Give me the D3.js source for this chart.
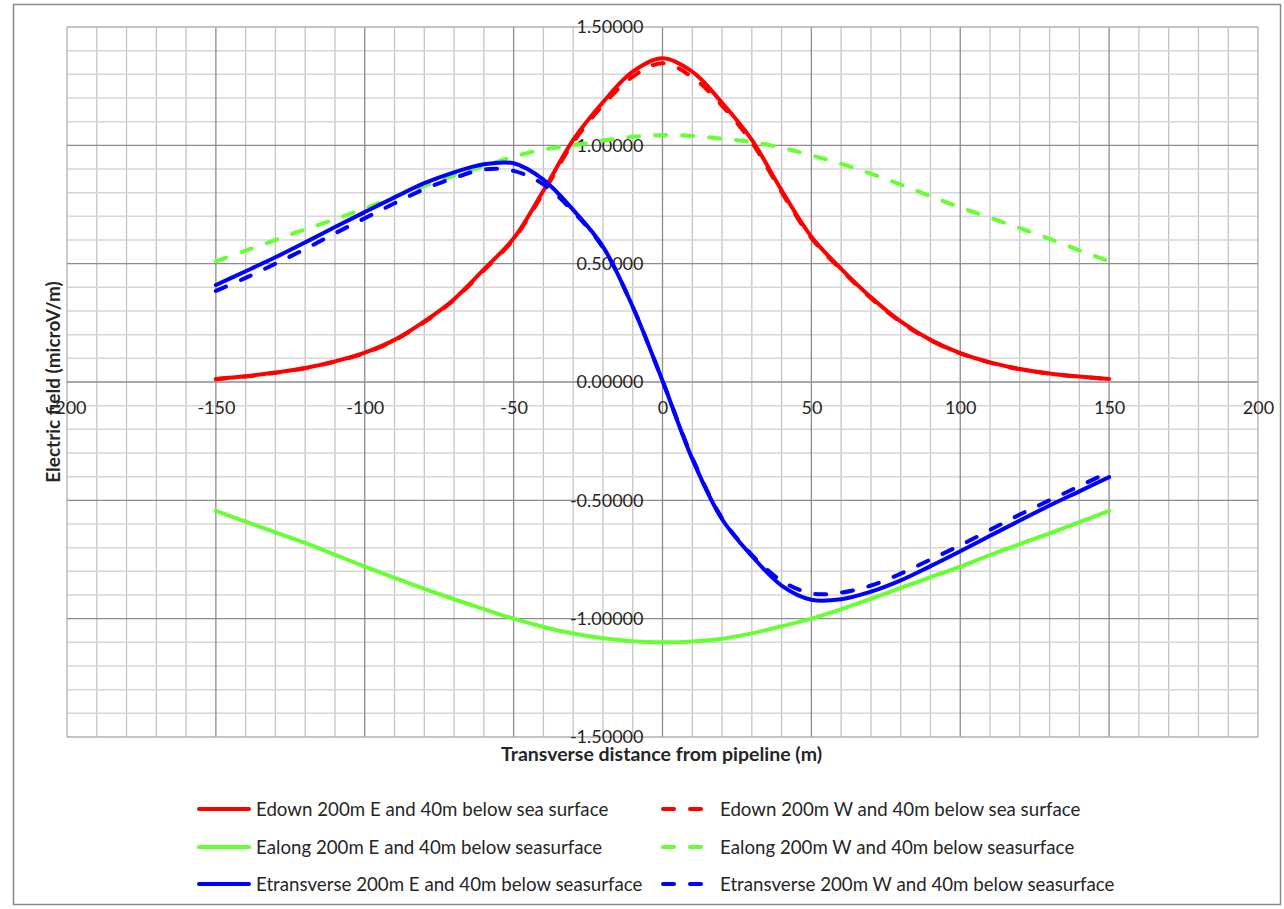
<!DOCTYPE html>
<html>
<head>
<meta charset="utf-8">
<script src="https://cdn.jsdelivr.net/npm/d3@7"></script>
<style>
  html, body { margin: 0; padding: 0; background: #fff; }
  svg { display: block; }
  text { font-family: Lato, "Open Sans", sans-serif; fill: #262626; }
</style>
</head>
<body>
<svg id="chart" width="1284" height="909"></svg>
<script>
// Transverse distance from the pipeline (m)
const distance = [-150, -140, -130, -120, -110, -100, -90, -80, -70, -60, -50, -40, -30, -20, -10,
                  0, 10, 20, 30, 40, 50, 60, 70, 80, 90, 100, 110, 120, 130, 140, 150];

// Electric field components (microV/m)
const edownE = [0.013, 0.024, 0.040, 0.059, 0.087, 0.124, 0.178, 0.256, 0.350, 0.476, 0.607, 0.808, 1.023, 1.182, 1.311,
                1.368, 1.311, 1.180, 1.023, 0.810, 0.614, 0.478, 0.358, 0.256, 0.178, 0.122, 0.083, 0.055, 0.036, 0.023, 0.013];
const edownW = [0.012, 0.023, 0.039, 0.058, 0.086, 0.122, 0.176, 0.253, 0.347, 0.472, 0.603, 0.800, 1.012, 1.170, 1.290,
                1.347, 1.288, 1.168, 1.012, 0.802, 0.608, 0.474, 0.354, 0.253, 0.176, 0.121, 0.082, 0.054, 0.035, 0.022, 0.012];
const ealongE = [-0.545, -0.590, -0.635, -0.680, -0.730, -0.780, -0.828, -0.874, -0.918, -0.960, -1.000, -1.035, -1.063, -1.083, -1.095,
                 -1.100, -1.096, -1.085, -1.062, -1.032, -1.000, -0.960, -0.916, -0.870, -0.825, -0.780, -0.731, -0.685, -0.640, -0.592, -0.545];
const ealongW = [0.510, 0.555, 0.600, 0.645, 0.688, 0.733, 0.782, 0.828, 0.872, 0.912, 0.952, 0.982, 1.000, 1.020, 1.036,
                 1.044, 1.040, 1.028, 1.014, 0.990, 0.958, 0.922, 0.880, 0.834, 0.785, 0.738, 0.694, 0.650, 0.605, 0.556, 0.510];
const etransE = [0.410, 0.468, 0.527, 0.590, 0.655, 0.718, 0.780, 0.840, 0.886, 0.920, 0.924, 0.855, 0.727, 0.572, 0.318,
                 0.005, -0.325, -0.580, -0.735, -0.860, -0.920, -0.918, -0.886, -0.838, -0.778, -0.715, -0.650, -0.585, -0.522, -0.462, -0.402];
const etransW = [0.385, 0.440, 0.500, 0.562, 0.628, 0.692, 0.755, 0.815, 0.862, 0.898, 0.892, 0.835, 0.720, 0.568, 0.318,
                 0.005, -0.320, -0.575, -0.730, -0.840, -0.893, -0.890, -0.860, -0.810, -0.750, -0.690, -0.625, -0.560, -0.500, -0.440, -0.380];

const seriesNames = [
  "Edown 200m E and 40m below sea surface",
  "Edown 200m W and 40m below sea surface",
  "Ealong 200m E and 40m below seasurface",
  "Ealong 200m W and 40m below seasurface",
  "Etransverse 200m E and 40m below seasurface",
  "Etransverse 200m W and 40m below seasurface"
];

const xTicks = [-200, -150, -100, -50, 0, 50, 100, 150, 200];
const yTicks = [-1.5, -1.0, -0.5, 0, 0.5, 1.0, 1.5];

const RED = "#ff0000", GREEN = "#66ff33", BLUE = "#0000ff";
const series = [
  { name: seriesNames[0], values: edownE,  color: RED,   dashed: false },
  { name: seriesNames[1], values: edownW,  color: RED,   dashed: true  },
  { name: seriesNames[2], values: ealongE, color: GREEN, dashed: false },
  { name: seriesNames[3], values: ealongW, color: GREEN, dashed: true  },
  { name: seriesNames[4], values: etransE, color: BLUE,  dashed: false },
  { name: seriesNames[5], values: etransW, color: BLUE,  dashed: true  }
];

const svg = d3.select("#chart");
const plot = { left: 67, right: 1258, top: 27, bottom: 737 };

const x = d3.scaleLinear().domain([-200, 200]).range([plot.left, plot.right]);
const y = d3.scaleLinear().domain([-1.5, 1.5]).range([plot.bottom, plot.top]);

// Outer chart frame
svg.append("rect")
  .attr("x", 13.5).attr("y", 4.5).attr("width", 1267).attr("height", 900)
  .attr("fill", "#fff").attr("stroke", "#8a8a8a").attr("stroke-width", 1.5);

// Gridlines: minor every 10 m / 0.1, major every 50 m / 0.5
const grid = svg.append("g");
const minorX = d3.range(-200, 201, 10).filter(v => v % 50 !== 0);
const minorY = d3.range(-15, 16, 1).filter(v => v % 5 !== 0).map(v => v / 10);

grid.selectAll(".mx").data(minorX).join("line")
  .attr("x1", d => x(d)).attr("x2", d => x(d))
  .attr("y1", plot.top).attr("y2", plot.bottom)
  .attr("stroke", "#c4c4c4").attr("stroke-width", 1.3);
grid.selectAll(".my").data(minorY).join("line")
  .attr("x1", plot.left).attr("x2", plot.right)
  .attr("y1", d => y(d)).attr("y2", d => y(d))
  .attr("stroke", "#d6d6d6").attr("stroke-width", 1.5);
grid.selectAll(".Mx").data(xTicks).join("line")
  .attr("x1", d => x(d)).attr("x2", d => x(d))
  .attr("y1", plot.top).attr("y2", plot.bottom)
  .attr("stroke", d => Math.abs(d) === 200 ? "#b0b0b0" : "#8c8c8c").attr("stroke-width", 1.3);
grid.selectAll(".My").data(yTicks).join("line")
  .attr("x1", plot.left).attr("x2", plot.right)
  .attr("y1", d => y(d)).attr("y2", d => y(d))
  .attr("stroke", d => Math.abs(d) === 1.5 ? "#b0b0b0" : "#8c8c8c").attr("stroke-width", 1.3);

// Axes crossing at zero, labels only
const xAxis = svg.append("g")
  .attr("transform", `translate(0,${y(0)})`)
  .call(d3.axisBottom(x).tickValues(xTicks).tickSize(0).tickPadding(0).tickFormat(d => String(d)));
xAxis.select(".domain").remove();
xAxis.selectAll("text")
  .attr("y", 26).attr("dy", "0.35em")
  .style("font-family", "Lato, sans-serif").style("font-size", "18px").style("fill", "#262626");

const yAxis = svg.append("g")
  .attr("transform", `translate(${x(0)},0)`)
  .call(d3.axisLeft(y).tickValues(yTicks).tickSize(0).tickPadding(19).tickFormat(d => d.toFixed(5)));
yAxis.select(".domain").remove();
yAxis.selectAll("text")
  .style("font-family", "Lato, sans-serif").style("font-size", "18px").style("fill", "#262626");

// Axis titles
svg.append("text")
  .attr("x", (plot.left + plot.right) / 2 - 1).attr("y", 761)
  .attr("text-anchor", "middle")
  .style("font-weight", "bold").style("font-size", "19.5px")
  .text("Transverse distance from pipeline (m)");
svg.append("text")
  .attr("transform", `translate(60,${(plot.top + plot.bottom) / 2}) rotate(-90)`)
  .attr("text-anchor", "middle")
  .style("font-weight", "bold").style("font-size", "19px")
  .text("Electric field (microV/m)");

// Series lines
const line = d3.line()
  .x((d, i) => x(distance[i]))
  .y(d => y(d))
  .curve(d3.curveCatmullRom.alpha(0.5));

svg.append("g").selectAll("path").data(series).join("path")
  .attr("d", d => line(d.values))
  .attr("fill", "none")
  .attr("stroke", d => d.color)
  .attr("stroke-width", 4)
  .attr("stroke-linecap", "round")
  .attr("stroke-linejoin", "round")
  .attr("stroke-dasharray", d => d.dashed ? "11,16" : null);

// Legend: two columns, three rows
const legend = svg.append("g");
const rowsY = [809, 847, 884];
series.forEach((s, i) => {
  const col = i % 2, row = Math.floor(i / 2);
  const g = legend.append("g").attr("transform", `translate(0,${rowsY[row]})`);
  if (col === 0) {
    g.append("line").attr("x1", 199).attr("x2", 249).attr("y1", 0).attr("y2", 0)
      .attr("stroke", s.color).attr("stroke-width", 4).attr("stroke-linecap", "round");
    g.append("text").attr("x", 256).attr("dy", "0.35em").style("font-size", "18.7px").text(s.name);
  } else {
    g.append("line").attr("x1", 663).attr("x2", 702).attr("y1", 0).attr("y2", 0)
      .attr("stroke", s.color).attr("stroke-width", 4).attr("stroke-linecap", "round")
      .attr("stroke-dasharray", "11,16");
    g.append("text").attr("x", 720).attr("dy", "0.35em").style("font-size", "18.7px").text(s.name);
  }
});
</script>
</body>
</html>
